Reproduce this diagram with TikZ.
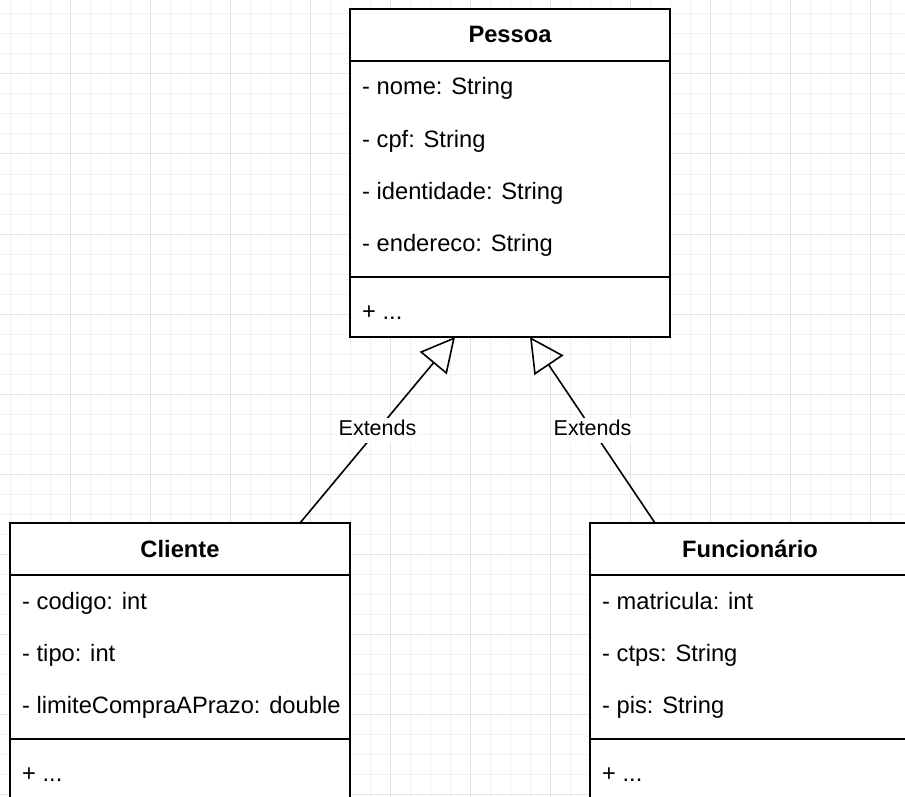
\documentclass[tikz,border=0pt]{standalone}
\usepackage{fontspec}
\setmainfont{Liberation Sans}
\usetikzlibrary{arrows.meta}
\definecolor{gminor}{HTML}{F2F2F2}
\definecolor{gmajor}{HTML}{E3E3E3}
\begin{document}
\begin{tikzpicture}[x=1pt,y=-1pt,
  box/.style={draw=black,fill=white,line width=2pt,anchor=north west,inner sep=0pt,outer sep=0pt},
  hdr/.style={font=\fontsize{23.7}{28}\selectfont\bfseries,anchor=base,inner sep=0pt},
  attr/.style={font=\fontsize{23.7}{28}\selectfont,anchor=base west,inner sep=0pt},
  sepline/.style={line width=2pt},
  gridminor/.style={draw=gminor,line width=1pt},
  gridmajor/.style={draw=gmajor,line width=1pt},
  ext/.style={-{Triangle[open,length=34pt,width=35pt]},line width=1.6pt},
  lbl/.style={fill=white,font=\fontsize{21.5}{26}\selectfont,inner sep=2pt,text height=16pt,text depth=5pt}
]
\useasboundingbox (0,0) rectangle (905,797);
\clip (0,0) rectangle (905,797);
\fill[white] (0,0) rectangle (905,797);
% grid
\foreach \x in {10,30,...,900} \draw[gridminor] (\x,0) -- (\x,797);
\foreach \y in {14,34,...,797} \draw[gridminor] (0,\y) -- (905,\y);
\foreach \x in {70,150,...,900} \draw[gridmajor] (\x,0) -- (\x,797);
\foreach \y in {74,154,...,797} \draw[gridmajor] (0,\y) -- (905,\y);

% Pessoa
\node[box,minimum width=320pt,minimum height=328pt] (pessoa) at (350,9) {};
\draw[sepline] (350,61) -- (670,61);
\draw[sepline] (350,277) -- (670,277);
\node[hdr] (pessoaT) at (510,43) {Pessoa};
\node[attr] (p1) at (362,95) {- nome: String};
\node[attr] (p2) at (362,147) {- cpf: String};
\node[attr] (p3) at (362,199) {- identidade: String};
\node[attr] (p4) at (362,251) {- endereco: String};
\node[attr] (pm) at (362,319) {+ ...};

% Cliente
\node[box,minimum width=340pt,minimum height=276pt] (cliente) at (10,523) {};
\draw[sepline] (10,575) -- (350,575);
\draw[sepline] (10,739) -- (350,739);
\node[hdr] (clienteT) at (180,557) {Cliente};
\node[attr] (c1) at (22,609) {- codigo: int};
\node[attr] (c2) at (22,661) {- tipo: int};
\node[attr] (c3) at (22,713) {- limiteCompraAPrazo: double};
\node[attr] (cm) at (22,781) {+ ...};

% Funcionario
\node[box,minimum width=320pt,minimum height=276pt] (func) at (590,523) {};
\draw[sepline] (590,575) -- (910,575);
\draw[sepline] (590,739) -- (910,739);
\node[hdr] (funcT) at (750,557) {Funcionário};
\node[attr] (f1) at (602,609) {- matricula: int};
\node[attr] (f2) at (602,661) {- ctps: String};
\node[attr] (f3) at (602,713) {- pis: String};
\node[attr] (fm) at (602,781) {+ ...};

% connectors
\coordinate (cliTop) at (300,523);
\coordinate (funTop) at (655,523);
\coordinate (pesL) at (455,337);
\coordinate (pesR) at (530,337);
\draw[ext] (cliTop) -- node[lbl] (lblL) {Extends} (pesL);
\draw[ext] (funTop) -- node[lbl] (lblR) {Extends} (pesR);
\end{tikzpicture}
\end{document}
